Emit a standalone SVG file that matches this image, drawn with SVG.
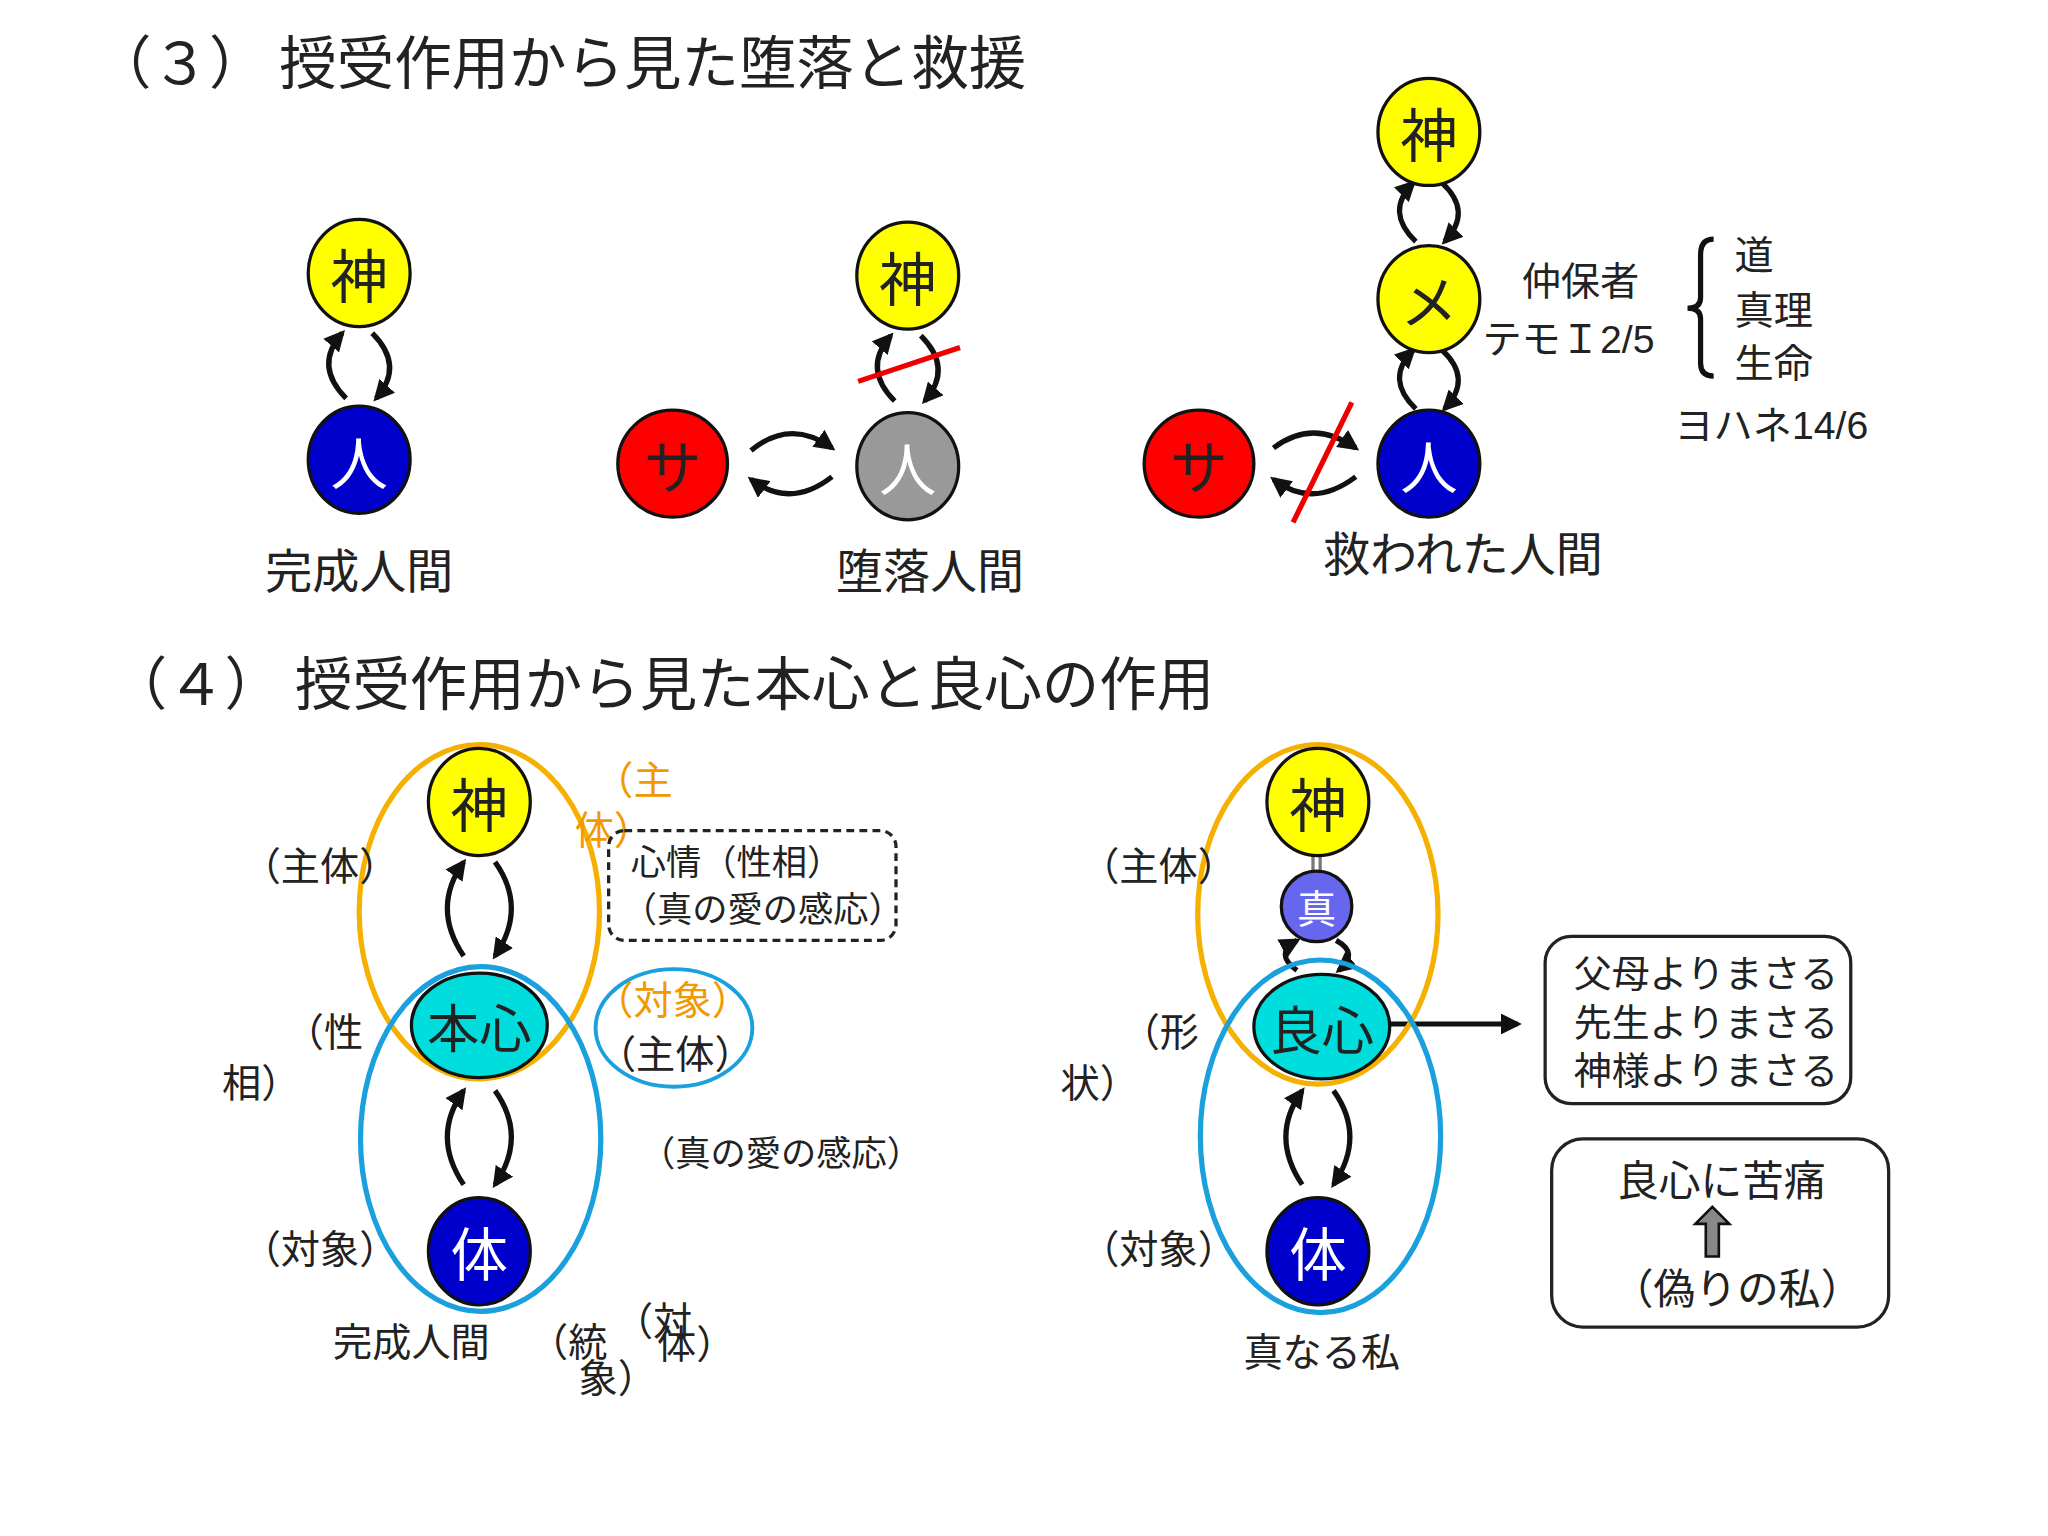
<svg xmlns="http://www.w3.org/2000/svg" width="2048" height="1536" viewBox="0 0 2048 1536">
<style>
text{font-family:"Noto Sans CJK JP","Liberation Sans",sans-serif;fill:#222}
.n{stroke:#111;stroke-width:2.5}
.c{fill:none;stroke:#111;stroke-width:4}
.big{font-size:44px}
.lb{font-size:36px}
.sm{font-size:30px}
.nd{font-size:44px;text-anchor:middle;dominant-baseline:central}
.or{fill:#f39800}
</style>
<defs>
<marker id="ah" viewBox="0 0 10 10" refX="8" refY="5" markerWidth="4" markerHeight="4" orient="auto"><path d="M0,0L10,5L0,10z" fill="#111"/></marker>
</defs>
<rect width="2048" height="1536" fill="#fff"/>
<g transform="scale(1.30612)">
<text class="big" x="72" y="64">（３） 授受作用から見た堕落と救援</text>
<text class="big" x="84" y="540">（４） 授受作用から見た本心と良心の作用</text>

<g id="connectors">
<path class="c" marker-end="url(#ah)" d="M265,305 Q240,280 262,255"/>
<path class="c" marker-end="url(#ah)" d="M285,255 Q310,280 288,305"/>
<path class="c" marker-end="url(#ah)" d="M685,307 Q660,282 682,257"/>
<path class="c" marker-end="url(#ah)" d="M705,257 Q730,282 708,307"/>
<line x1="657" y1="292" x2="735" y2="266" stroke="#e00" stroke-width="4"/>
<path class="c" marker-end="url(#ah)" d="M575,345 Q605,320 637,343"/>
<path class="c" marker-end="url(#ah)" d="M637,365 Q605,390 575,367"/>
<path class="c" marker-end="url(#ah)" d="M1084,185 Q1060,162 1082,140"/>
<path class="c" marker-end="url(#ah)" d="M1104,140 Q1128,162 1106,185"/>
<path class="c" marker-end="url(#ah)" d="M1084,313 Q1060,290 1082,268"/>
<path class="c" marker-end="url(#ah)" d="M1104,268 Q1128,290 1106,313"/>
<path class="c" marker-end="url(#ah)" d="M975,343 Q1005,320 1038,343"/>
<path class="c" marker-end="url(#ah)" d="M1038,365 Q1005,390 975,367"/>
<line x1="990" y1="400" x2="1035" y2="308" stroke="#e00" stroke-width="4"/>
<path class="c" marker-end="url(#ah)" d="M355,732 Q330,695 355,660"/>
<path class="c" marker-end="url(#ah)" d="M379,660 Q404,695 379,732"/>
<path class="c" marker-end="url(#ah)" d="M355,907 Q330,870 355,835"/>
<path class="c" marker-end="url(#ah)" d="M379,835 Q404,870 379,907"/>
<path class="c" marker-end="url(#ah)" d="M997,907 Q972,870 997,835"/>
<path class="c" marker-end="url(#ah)" d="M1021,835 Q1046,870 1021,907"/>
<path class="c" marker-end="url(#ah)" d="M993,743 Q975,730 993,720"/>
<path class="c" marker-end="url(#ah)" d="M1023,720 Q1041,730 1025,743"/>
<line x1="1008" y1="652" x2="1008" y2="668" stroke="#777" stroke-width="8"/>
<line x1="1008" y1="652" x2="1008" y2="668" stroke="#fff" stroke-width="3"/>
<line x1="1065" y1="784" x2="1162" y2="784" stroke="#111" stroke-width="4" marker-end="url(#ah)"/>
</g>

<g id="n1"><ellipse class="n" cx="275" cy="209" rx="39" ry="41" fill="#ff0"/><text class="nd" x="275" y="209">神</text></g>
<g id="n2"><ellipse class="n" cx="275" cy="352" rx="39" ry="41" fill="#00c"/><text class="nd" x="275" y="352" style="fill:#fff">人</text></g>
<text class="lb" x="275" y="450" text-anchor="middle">完成人間</text>

<g id="n3"><ellipse class="n" cx="695" cy="211" rx="39" ry="41" fill="#ff0"/><text class="nd" x="695" y="211">神</text></g>
<g id="n4"><ellipse class="n" cx="695" cy="357" rx="39" ry="41" fill="#999"/><text class="nd" x="695" y="357" style="fill:#fff">人</text></g>
<g id="n5"><ellipse class="n" cx="515" cy="355" rx="42" ry="41" fill="#f00"/><text class="nd" x="515" y="355">サ</text></g>
<text class="lb" x="712" y="450" text-anchor="middle">堕落人間</text>

<g id="n6"><ellipse class="n" cx="1094" cy="101" rx="39" ry="41" fill="#ff0"/><text class="nd" x="1094" y="101">神</text></g>
<g id="n7"><ellipse class="n" cx="1094" cy="229" rx="39" ry="41" fill="#ff0"/><text class="nd" x="1094" y="229">メ</text></g>
<g id="n8"><ellipse class="n" cx="1094" cy="355" rx="39" ry="41" fill="#00c"/><text class="nd" x="1094" y="355" style="fill:#fff">人</text></g>
<g id="n9"><ellipse class="n" cx="918" cy="355" rx="42" ry="41" fill="#f00"/><text class="nd" x="918" y="355">サ</text></g>
<text class="lb" x="1120" y="437" text-anchor="middle">救われた人間</text>
<text class="sm" x="1210" y="226" text-anchor="middle">仲保者</text>
<text class="sm" x="1135" y="270">テモＩ<tspan font-family="Liberation Sans">2/5</tspan></text>
<path d="M1312,183 Q1302,183 1302,195 L1302,228 Q1302,236 1292,236 Q1302,236 1302,244 L1302,278 Q1302,288 1312,288" fill="none" stroke="#111" stroke-width="4"/>
<text class="sm" x="1328" y="206">道</text>
<text class="sm" x="1328" y="248">真理</text>
<text class="sm" x="1328" y="289">生命</text>
<text class="sm" x="1282" y="336">ヨハネ<tspan font-family="Liberation Sans">14/6</tspan></text>

<ellipse cx="367" cy="698" rx="92" ry="128" fill="none" stroke="#f5b000" stroke-width="4"/>
<ellipse cx="368" cy="872" rx="92" ry="132" fill="none" stroke="#1aa0dc" stroke-width="4"/>
<g id="n10"><ellipse class="n" cx="367" cy="614" rx="39" ry="41" fill="#ff0"/><text class="nd" x="367" y="614">神</text></g>
<g id="n11"><ellipse class="n" cx="367" cy="785" rx="52" ry="40" fill="#0dd"/><text class="nd" x="367" y="785" style="font-size:40px">本心</text></g>
<g id="n12"><ellipse class="n" cx="367" cy="958" rx="39" ry="41" fill="#00c"/><text class="nd" x="367" y="958" style="fill:#fff">体</text></g>
<text class="sm" x="185" y="674">（主体）</text>
<text class="sm" x="218" y="801">（性</text>
<text class="sm" x="170" y="840">相）</text>
<text class="sm" x="185" y="967">（対象）</text>
<text class="sm" x="255" y="1038">完成人間</text>
<text class="sm" x="405" y="1038">（統</text>
<text class="sm" x="443" y="1066">象）</text>
<text class="sm" x="470" y="1022">（対</text>
<text class="sm" x="503" y="1040">体）</text>
<text class="sm or" x="455" y="608">（主</text>
<text class="sm or" x="440" y="646">体）</text>
<rect x="466" y="636" width="220" height="84" rx="12" fill="none" stroke="#222" stroke-width="2.5" stroke-dasharray="6,4"/>
<text x="483" y="670" style="font-size:27px">心情（性相）</text>
<text x="476" y="706" style="font-size:27px">（真の愛の感応）</text>
<ellipse cx="516" cy="787" rx="60" ry="45" fill="none" stroke="#1aa0dc" stroke-width="3"/>
<text class="sm or" x="455" y="776">（対象）</text>
<text class="sm" x="457" y="818">（主体）</text>
<text x="490" y="893" style="font-size:27px">（真の愛の感応）</text>

<ellipse cx="1009" cy="700" rx="92" ry="130" fill="none" stroke="#f5b000" stroke-width="4"/>
<ellipse cx="1011" cy="870" rx="92" ry="135" fill="none" stroke="#1aa0dc" stroke-width="4"/>
<g id="n13"><ellipse class="n" cx="1009" cy="614" rx="39" ry="41" fill="#ff0"/><text class="nd" x="1009" y="614">神</text></g>
<g id="n14"><ellipse class="n" cx="1008" cy="694" rx="27" ry="27" fill="#66e"/><text class="nd" x="1008" y="694" style="font-size:30px;fill:#fff">真</text></g>
<g id="n15"><ellipse class="n" cx="1012" cy="786" rx="52" ry="40" fill="#0dd"/><text class="nd" x="1012" y="786" style="font-size:40px">良心</text></g>
<g id="n16"><ellipse class="n" cx="1009" cy="958" rx="39" ry="41" fill="#00c"/><text class="nd" x="1009" y="958" style="fill:#fff">体</text></g>
<text class="sm" x="827" y="674">（主体）</text>
<text class="sm" x="858" y="801">（形</text>
<text class="sm" x="812" y="840">状）</text>
<text class="sm" x="827" y="967">（対象）</text>
<text class="sm" x="1012" y="1046" text-anchor="middle">真なる私</text>
<g id="n17"><rect x="1183" y="717" width="234" height="128" rx="20" fill="none" stroke="#222" stroke-width="2.5"/>
<text x="1205" y="756" style="font-size:29px">父母よりまさる</text>
<text x="1205" y="793" style="font-size:29px">先生よりまさる</text>
<text x="1205" y="830" style="font-size:29px">神様よりまさる</text></g>
<g id="n18"><rect x="1188" y="872" width="258" height="144" rx="24" fill="none" stroke="#222" stroke-width="2.5"/>
<text x="1318" y="916" text-anchor="middle" style="font-size:32px">良心に苦痛</text>
<path d="M1306,962 L1306,937 L1298,937 L1311,924 L1324,937 L1316,937 L1316,962 Z" fill="#888" stroke="#111" stroke-width="2"/>
<text x="1234" y="998" style="font-size:32px">（偽りの私）</text></g>
</g>
</svg>
